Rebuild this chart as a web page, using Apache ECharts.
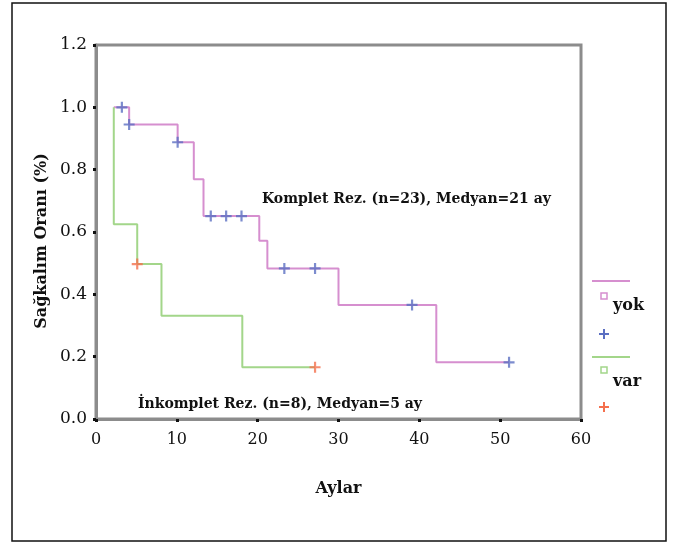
<!DOCTYPE html>
<html><head><meta charset="utf-8">
<script src="https://cdn.jsdelivr.net/npm/echarts@6/dist/echarts.min.js"></script>
<style>html,body{margin:0;padding:0;background:#fff}#c{width:677px;height:546px}</style>
</head><body><div id="c"></div>
<script>
// Kaplan-Meier step curves [month, survival]
const yokTimes = [2.2, 4.1, 10.1, 12.1, 13.3, 20.2, 21.2, 30.0, 42.1, 51.1];
const yokSurv  = [1.0, 0.945, 0.888, 0.769, 0.651, 0.572, 0.483, 0.366, 0.182, 0.182];
const varTimes = [2.2, 2.2, 5.1, 8.1, 18.1, 27.1];
const varSurv  = [1.0, 0.625, 0.497, 0.331, 0.166, 0.166];
// censored observations
const yokCensT = [3.2, 4.1, 10.1, 14.2, 16.1, 18.0, 23.3, 27.1, 39.1, 51.1];
const yokCensS = [1.0, 0.945, 0.888, 0.651, 0.651, 0.651, 0.483, 0.483, 0.366, 0.182];
const varCensT = [5.1, 27.1];
const varCensS = [0.497, 0.166];
const xTicks = [0, 10, 20, 30, 40, 50, 60];
const yTicks = [0.0, 0.2, 0.4, 0.6, 0.8, 1.0, 1.2];

const zip = (a, b) => a.map((v, i) => [v, b[i]]);
const PINK = '#d68fcf', GREEN = '#a3d68a', BLUE = '#5b6fc2', ORANGE = '#f4704e';
const PLUS = 'path://M-1,-5L1,-5L1,-1L5,-1L5,1L1,1L1,5L-1,5L-1,1L-5,1L-5,-1L-1,-1Z';
const FONT = 'DejaVu Serif';
const plusPts = (cx, cy) => [[-1,-5],[1,-5],[1,-1],[5,-1],[5,1],[1,1],[1,5],[-1,5],[-1,1],[-5,1],[-5,-1],[-1,-1]].map(p => [cx + p[0], cy + p[1]]);

const chart = echarts.init(document.getElementById('c'));
chart.setOption({
  animation: false,
  grid: { left: 96, right: 96, top: 45, bottom: 127, show: true, borderColor: '#8c8c8c', borderWidth: 3 },
  xAxis: {
    type: 'value', min: 0, max: 60, interval: 10,
    name: 'Aylar', nameLocation: 'middle', nameGap: 62,
    nameTextStyle: { fontFamily: FONT, fontWeight: 'bold', fontSize: 16, color: '#111' },
    axisLine: { lineStyle: { color: '#8c8c8c', width: 3 } },
    axisTick: { length: 3, lineStyle: { color: '#111', width: 3 } },
    axisLabel: { margin: 13, fontFamily: FONT, fontSize: 16, color: '#111',
      formatter: v => xTicks.includes(v) ? String(v) : '' },
    splitLine: { show: false }
  },
  yAxis: {
    type: 'value', min: 0, max: 1.2, interval: 0.2,
    axisLine: { lineStyle: { color: '#8c8c8c', width: 3 } },
    axisTick: { length: 3, lineStyle: { color: '#111', width: 3 } },
    axisLabel: { margin: 9, fontFamily: FONT, fontSize: 17, color: '#111',
      formatter: v => { const t = yTicks.find(y => Math.abs(y - v) < 1e-6); return t === undefined ? '' : t.toFixed(1); } },
    splitLine: { show: false }
  },
  series: [
    { type: 'line', step: 'end', data: zip(yokTimes, yokSurv), showSymbol: false,
      lineStyle: { color: PINK, width: 2 }, z: 2 },
    { type: 'line', step: 'end', data: zip(varTimes, varSurv), showSymbol: false,
      lineStyle: { color: GREEN, width: 2 }, z: 2 },
    { type: 'scatter', data: zip(yokCensT, yokCensS), symbol: PLUS, symbolSize: 11,
      itemStyle: { color: BLUE }, z: 3 },
    { type: 'scatter', data: zip(varCensT, varCensS), symbol: PLUS, symbolSize: 11,
      itemStyle: { color: ORANGE }, z: 3 }
  ],
  graphic: [
    { type: 'rect', shape: { x: 12, y: 3, width: 654, height: 538 },
      style: { fill: 'none', stroke: '#111', lineWidth: 1.5 }, z: -1 },
    { type: 'text', x: 42, y: 241, rotation: Math.PI / 2,
      style: { text: 'Sağkalım Oranı (%)', font: 'bold 16px "DejaVu Serif"', fill: '#111', align: 'center', verticalAlign: 'middle' } },
    { type: 'text', x: 262, y: 199,
      style: { text: 'Komplet Rez. (n=23), Medyan=21 ay', font: 'bold 14px "DejaVu Serif"', fill: '#111', verticalAlign: 'middle' } },
    { type: 'text', x: 138, y: 404,
      style: { text: 'İnkomplet Rez. (n=8), Medyan=5 ay', font: 'bold 14px "DejaVu Serif"', fill: '#111', verticalAlign: 'middle' } },
    // legend
    { type: 'line', shape: { x1: 592, y1: 281, x2: 630, y2: 281 }, style: { stroke: PINK, lineWidth: 2 } },
    { type: 'rect', shape: { x: 601, y: 293, width: 6, height: 6 }, style: { fill: '#fff', stroke: PINK, lineWidth: 1.5 } },
    { type: 'text', x: 613, y: 306, style: { text: 'yok', font: 'bold 16px "DejaVu Serif"', fill: '#111', verticalAlign: 'middle' } },
    { type: 'polygon', shape: { points: plusPts(604, 334) }, style: { fill: BLUE } },
    { type: 'line', shape: { x1: 592, y1: 357, x2: 630, y2: 357 }, style: { stroke: GREEN, lineWidth: 2 } },
    { type: 'rect', shape: { x: 601, y: 367, width: 6, height: 6 }, style: { fill: '#fff', stroke: GREEN, lineWidth: 1.5 } },
    { type: 'text', x: 613, y: 382, style: { text: 'var', font: 'bold 16px "DejaVu Serif"', fill: '#111', verticalAlign: 'middle' } },
    { type: 'polygon', shape: { points: plusPts(604, 407) }, style: { fill: ORANGE } }
  ]
});
</script></body></html>
